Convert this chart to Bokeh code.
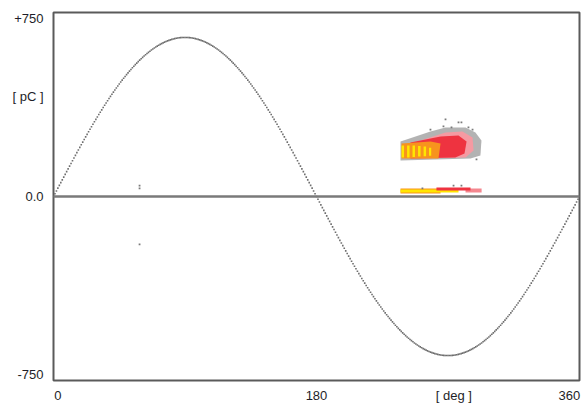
import numpy as np
from bokeh.plotting import figure
from bokeh.models import Range1d, Span, ColumnDataSource, LinearAxis, FixedTicker
from bokeh.embed import file_html
from bokeh.resources import INLINE

# ---- axes ----
phase_min, phase_max = 0, 360          # [deg]
charge_min, charge_max = -775, 775     # [pC]

y_tick_values = [750, 420, 0, -750]
y_tick_labels = ["+750", "[ pC ]", "0.0", "-750"]
# label anchors along the phase axis (end labels kept inside the frame)
x_tick_values = [3, 180, 274, 353]
x_tick_labels = ["0", "180", "[ deg ]", "360"]

# ---- reference voltage (sine, peak in pC scale) ----
sine_peak = 670
sine_phase = np.arange(0, 361, 1.0)

# ---- PRPD pattern, positive half-cycle cluster: outlines per count level ----
halo_phase = [237.5, 258.0, 268.3, 282.0, 288.8, 292.9, 292.2, 285.4, 237.5]
halo_q     = [232, 274, 291, 291, 270, 236, 173, 160, 152]
pink_phase = [251.2, 268.3, 279.9, 286.8, 287.5, 282.0, 251.2]
pink_q     = [236, 270, 274, 249, 194, 164, 160]
red_phase  = [244.3, 264.9, 277.2, 282.7, 281.3, 275.0, 244.3]
red_q      = [227, 253, 257, 232, 181, 164, 160]
orange_phase = [238.2, 258.0, 264.9, 263.5, 238.2]
orange_q     = [223, 232, 223, 160, 160]

# dense phase bins (high counts) inside the cluster: (phase0, phase1, q0, q1)
stripe_phase0 = [238.2, 242.0, 245.7, 249.5, 253.3, 257.0]
stripe_phase1 = [239.9, 243.7, 247.4, 251.2, 255.0, 258.5]
stripe_q0     = [164, 164, 166, 168, 170, 172]
stripe_q1     = [215, 215, 215, 213, 211, 205]

# ---- low-amplitude band just above zero: (phase0, phase1, q0, q1, colour) ----
band_phase0 = [282.0, 237.5, 237.5, 262.1]
band_phase1 = [293.0, 264.9, 277.2, 285.4]
band_q0     = [17, 13, 17, 25]
band_q1     = [34, 34, 29, 38]
band_color  = ["#f4878f", "#f7931e", "#ffe600", "#ee3340"]

# ---- sparse single pulses (phase, q) ----
pulse_phase = [268.3, 277.2, 279.2, 266.9, 272.4, 258.0, 284.0, 286.8, 289.5,
               273.8, 279.2, 252.5, 58.9, 58.9, 58.9]
pulse_q     = [325, 312, 312, 295, 291, 282, 291, 282, 156,
               46, 46, 34, 46, 34, -202]

p = figure(
    frame_width=526, frame_height=368,
    x_range=Range1d(phase_min, phase_max),
    y_range=Range1d(charge_min, charge_max),
    x_axis_location=None, y_axis_location=None,
    toolbar_location=None, output_backend="svg",
    min_border_left=53, min_border_right=2,
    min_border_top=12, min_border_bottom=23,
)
p.grid.grid_line_color = None
p.background_fill_color = "white"
p.border_fill_color = "white"
p.outline_line_color = "#5a5a5a"
p.outline_line_width = 2

# cluster layers, lowest count first
p.patch(halo_phase, halo_q, fill_color="#9a9a9a", fill_alpha=0.75, line_color=None)
p.patch(pink_phase, pink_q, fill_color="#f59aa2", line_color=None)
p.patch(red_phase, red_q, fill_color="#ee3340", line_color=None)
p.patch(orange_phase, orange_q, fill_color="#f7931e", line_color=None)
p.quad(left=stripe_phase0, right=stripe_phase1, bottom=stripe_q0, top=stripe_q1,
       fill_color="#ffe600", line_color=None)

band = ColumnDataSource(dict(left=band_phase0, right=band_phase1,
                             bottom=band_q0, top=band_q1, color=band_color))
p.quad(left="left", right="right", bottom="bottom", top="top",
       fill_color="color", line_color=None, source=band)

p.scatter(pulse_phase, pulse_q, marker="square", size=1.8,
          color="#7a7a7a", line_color=None)

# reference sine drawn as dots
p.scatter(sine_phase, sine_peak * np.sin(np.radians(sine_phase)),
          marker="square", size=1.6, color="#6e6e6e", line_color=None)

p.add_layout(Span(location=0, dimension="width", line_color="#7a7a7a", line_width=2.5))

label_style = dict(major_label_text_font="Liberation Sans",
                   major_label_text_font_size="13px",
                   major_label_text_color="#1e1e28",
                   major_tick_line_color=None, minor_tick_line_color=None,
                   major_tick_in=0, major_tick_out=0,
                   minor_tick_in=0, minor_tick_out=0,
                   axis_line_color=None)

yaxis = LinearAxis(ticker=FixedTicker(ticks=y_tick_values),
                   major_label_overrides=dict(zip(y_tick_values, y_tick_labels)),
                   major_label_standoff=10, **label_style)
xaxis = LinearAxis(ticker=FixedTicker(ticks=x_tick_values),
                   major_label_overrides=dict(zip(x_tick_values, x_tick_labels)),
                   major_label_standoff=7, **label_style)
p.add_layout(yaxis, "left")
p.add_layout(xaxis, "below")

open("out.html", "w").write(file_html(p, INLINE))
